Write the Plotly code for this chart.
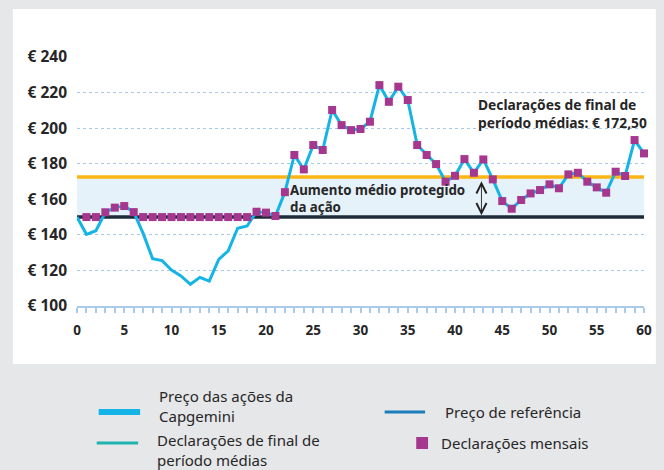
import plotly.graph_objects as go

# Mês (0..60) e preço da ação (€)
meses = list(range(61))
preco_acao = [
    150.0, 140.3, 142.3, 152.7, 155.3, 156.2, 152.8, 140.8, 126.6, 125.5,
    120.2, 116.9, 112.2, 116.1, 114.0, 126.2, 131.0, 143.7, 145.0, 153.0,
    152.5, 150.6, 164.0, 184.9, 176.8, 190.5, 187.7, 210.2, 201.7, 198.9,
    199.5, 203.6, 224.2, 214.8, 223.3, 215.8, 190.5, 184.9, 179.8, 169.9,
    173.2, 182.6, 174.9, 182.4, 171.2, 159.0, 154.7, 159.6, 163.3, 165.2,
    168.4, 166.2, 174.0, 174.9, 169.9, 166.7, 163.7, 175.5, 173.1, 193.3,
    185.8,
]
# Declarações mensais (meses 1..60)
meses_decl = list(range(1, 61))
decl_mensais = [
    150.0, 150.0, 152.7, 155.3, 156.2, 152.8, 150.0, 150.0, 150.0, 150.0,
    150.0, 150.0, 150.0, 150.0, 150.0, 150.0, 150.0, 150.0, 153.0, 152.5,
    150.6, 164.0, 184.9, 176.8, 190.5, 187.7, 210.2, 201.7, 198.9, 199.5,
    203.6, 224.2, 214.8, 223.3, 215.8, 190.5, 184.9, 179.8, 169.9, 173.2,
    182.6, 174.9, 182.4, 171.2, 159.0, 154.7, 159.6, 163.3, 165.2, 168.4,
    166.2, 174.0, 174.9, 169.9, 166.7, 163.7, 175.5, 173.1, 193.3, 185.8,
]
preco_referencia = 150.0
media_final = 172.5
y_ticks = [100, 120, 140, 160, 180, 200, 220, 240]

FONT = "Noto Sans, Open Sans, sans-serif"
TXT = "#262626"
CIANO = "#14b4e6"
ROXO = "#a5378f"
LARANJA = "#fbb616"
ESCURO = "#1d2c38"
GRADE = "#a6c9ea"

# plot area in pixels (used for placing paper-referenced decorations)
L, R, T, B = 77, 652, 57, 306


def px(x):
    return (x - L) / (R - L)


def py(y):
    return (B - y) / (B - T)


fig = go.Figure()

# faixa entre o preço de referência e a média final
fig.add_trace(go.Scatter(x=[0, 60], y=[preco_referencia] * 2, mode="lines",
                         line=dict(width=0), hoverinfo="skip"))
fig.add_trace(go.Scatter(x=[0, 60], y=[media_final] * 2, mode="lines",
                         line=dict(width=0), fill="tonexty",
                         fillcolor="#e6f2fa", hoverinfo="skip"))
fig.add_trace(go.Scatter(x=[-0.2, 60], y=[preco_referencia] * 2, mode="lines",
                         line=dict(color=ESCURO, width=3.5), cliponaxis=False))
fig.add_trace(go.Scatter(x=[0, 60], y=[media_final] * 2, mode="lines",
                         line=dict(color=LARANJA, width=3.5), cliponaxis=False))
fig.add_trace(go.Scatter(x=meses, y=preco_acao, mode="lines",
                         line=dict(color=CIANO, width=3), cliponaxis=False))
fig.add_trace(go.Scatter(x=meses_decl, y=decl_mensais, mode="markers",
                         marker=dict(symbol="square", size=8, color=ROXO),
                         cliponaxis=False))

# painel branco
fig.add_shape(type="rect", xref="paper", yref="paper",
              x0=px(12), x1=px(664), y0=py(364), y1=py(9),
              fillcolor="white", line_width=0, layer="below")

# seta dupla
fig.add_annotation(x=42.8, y=151, ax=42.8, ay=171, xref="x", yref="y",
                   axref="x", ayref="y", text="", showarrow=True,
                   arrowhead=5, startarrowhead=5, arrowside="end+start",
                   arrowsize=2.2, startarrowsize=2.2, arrowwidth=0.9,
                   arrowcolor="#222")
fig.add_annotation(x=22.35, y=160.5, xref="x", yref="y", xanchor="left",
                   yanchor="middle", align="left", showarrow=False,
                   text="<b>Aumento médio protegido<br>da ação</b>",
                   font=dict(size=13.3, color=TXT, family=FONT))
fig.add_annotation(x=42.2, y=208, xref="x", yref="y", xanchor="left",
                   yanchor="middle", align="left", showarrow=False,
                   text="<b>Declarações de final de<br>período médias: € 172,50</b>",
                   font=dict(size=13.8, color=TXT, family=FONT))

# legenda manual
leg_font = dict(size=15, color=TXT, family=FONT)
fig.add_shape(type="line", xref="paper", yref="paper", x0=px(99), x1=px(141),
              y0=py(412), y1=py(412), line=dict(color=CIANO, width=6))
fig.add_shape(type="line", xref="paper", yref="paper", x0=px(97), x1=px(139),
              y0=py(443), y1=py(443), line=dict(color="#1db3ae", width=3))
fig.add_shape(type="line", xref="paper", yref="paper", x0=px(389), x1=px(430),
              y0=py(412), y1=py(412), line=dict(color="#1a7cb8", width=3))
fig.add_shape(type="rect", xref="paper", yref="paper", x0=px(421), x1=px(433),
              y0=py(449), y1=py(437), fillcolor=ROXO, line_width=0)
for tx, ty, txt in [
    (158, 406, "Preço das ações da<br>Capgemini"),
    (156, 450, "Declarações de final de<br>período médias"),
    (448, 412, "Preço de referência"),
    (444, 443, "Declarações mensais"),
]:
    fig.add_annotation(x=px(tx), y=py(ty), xref="paper", yref="paper",
                       xanchor="left", yanchor="middle", align="left",
                       showarrow=False, text=txt, font=leg_font)

fig.update_xaxes(
    range=[0, 60], dtick=5, tick0=0, showgrid=False, zeroline=False,
    showline=True, linecolor="#a9cbe9", linewidth=2,
    ticks="outside", ticklen=5, tickwidth=1.5, tickcolor="#a9cbe9",
    minor=dict(dtick=1, ticks="outside", ticklen=5, tickwidth=1.5,
               tickcolor="#a9cbe9"),
    ticklabelstandoff=6,
    tickfont=dict(size=13.5, color=TXT, family=FONT, weight="bold"),
)
fig.update_yaxes(
    range=[100, 240], tickvals=y_ticks,
    ticktext=[f"€ {v}" for v in y_ticks],
    showgrid=True, gridcolor=GRADE, gridwidth=1, griddash="dot",
    zeroline=False, showline=False, ticks="", ticklabelstandoff=9,
    tickfont=dict(size=15.5, color=TXT, family=FONT, weight="bold"),
)
fig.update_layout(
    width=664, height=470, autosize=False,
    margin=dict(l=L, r=664 - R, t=T, b=470 - B),
    paper_bgcolor="#e6e7e9", plot_bgcolor="rgba(0,0,0,0)",
    showlegend=False, hovermode="closest",
)
fig.write_html("out.html", config={"displayModeBar": False},
               post_script="document.body.style.margin='0';")
